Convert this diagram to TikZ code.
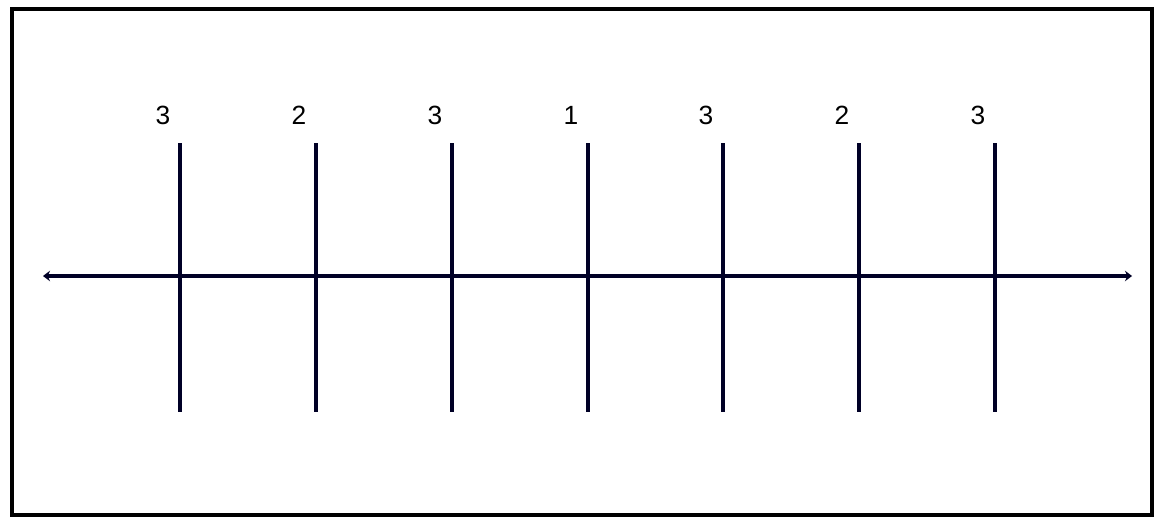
\documentclass[tikz,border=0pt]{standalone}
\usepackage{fontspec}
\setsansfont{Liberation Sans}
\usetikzlibrary{arrows.meta,positioning}

\begin{document}
\begin{tikzpicture}[x=0.02cm,y=0.02cm]

\def\axisy{242}
\def\ticktop{375}
\def\tickbot{106}

\tikzset{line/.style={draw,line width=2.2pt,color=black!85!blue}}
\tikzset{arrow/.style={line,line width=1.8pt,{Stealth[length=4pt,width=6pt]}-{Stealth[length=4pt,width=6pt]}}}
\tikzset{textnode/.style={inner sep=0pt,font=\sffamily\fontsize{15}{15}\selectfont}}
\tikzset{frame/.style={draw,line width=2.4pt}}

\useasboundingbox (0,0) rectangle (1155,518);
\path[frame] (12,3) rectangle (1152,509);

% axis
\coordinate (left) at (43,\axisy);
\coordinate (right) at (1132,\axisy);
\path[arrow] (left) to (right);

% ticks with their labels
\foreach \x/\lab [count=\i] in {180/3,316/2,452/3,588/1,723/3,859/2,995/3}{
  \coordinate (top\i) at (\x,\ticktop);
  \coordinate (bot\i) at (\x,\tickbot);
  \path[line] (top\i) to (bot\i);
  \node[textnode] (label\i) at (\x-17,403) {\lab};
}

\end{tikzpicture}
\end{document}
